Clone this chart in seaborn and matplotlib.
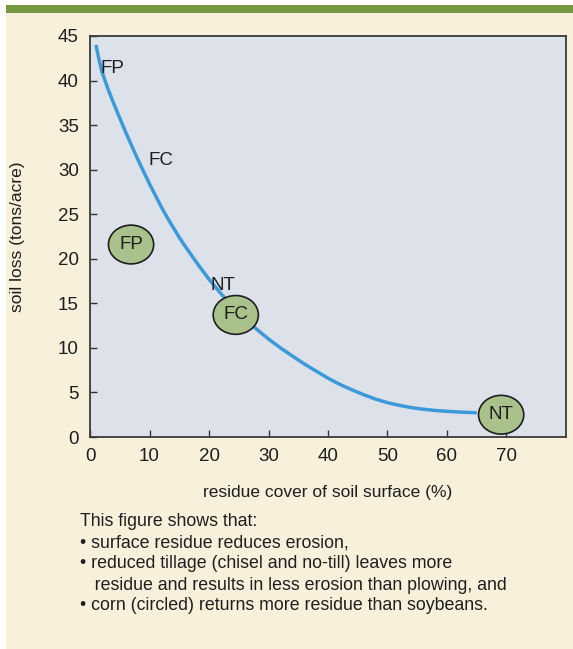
import matplotlib
matplotlib.use("Agg")
import matplotlib.pyplot as plt
from matplotlib.patches import Ellipse, Rectangle
import pandas as pd
import seaborn as sns

# Soil loss vs. residue cover curve
residue_cover = [1, 1.5, 2, 3, 4, 5, 6, 7, 8, 9, 10, 11, 12, 13, 14, 15, 16, 18, 20, 22,
                 24, 26, 28, 30, 32, 34, 36, 38, 40, 42, 44, 46, 48, 50, 52, 54, 56, 58,
                 60, 62, 65]
soil_loss = [44.0, 42.4, 41.0, 39.1, 37.4, 35.8, 34.2, 32.7, 31.2, 29.8, 28.4, 27.1, 25.8,
             24.6, 23.5, 22.4, 21.4, 19.5, 17.7, 16.1, 14.6, 13.3, 12.1, 11.0, 10.0, 9.1,
             8.2, 7.4, 6.6, 5.9, 5.3, 4.75, 4.25, 3.85, 3.55, 3.3, 3.12, 2.98, 2.88, 2.8,
             2.72]

# Soybean tillage systems (plain labels)
soy_labels = ["FP", "FC", "NT"]
soy_x = [1.7, 12.0, 22.3]
soy_y = [41.3, 31.0, 17.0]

# Corn tillage systems (circled labels)
corn_labels = ["FP", "FC", "NT"]
corn_x = [6.9, 24.5, 69.1]
corn_y = [21.6, 13.7, 2.5]

x_ticks = [0, 10, 20, 30, 40, 50, 60, 70]
y_ticks = [0, 5, 10, 15, 20, 25, 30, 35, 40, 45]

caption = [
    "This figure shows that:",
    "\u2022 surface residue reduces erosion,",
    "\u2022 reduced tillage (chisel and no-till) leaves more",
    "   residue and results in less erosion than plowing, and",
    "\u2022 corn (circled) returns more residue than soybeans.",
]

sns.set_theme(style="ticks")
plt.rcParams["font.family"] = ["Liberation Sans Narrow", "Liberation Sans", "DejaVu Sans"]

CREAM = "#F8F0DB"
PANEL = "#DDE1EA"
GREEN = "#76963F"
BLUE = "#3D9AD8"
CIRCLE = "#A9C18B"
DARK = "#1e1e1e"

W, H = 573, 649
fig = plt.figure(figsize=(W / 100, H / 100), dpi=100, facecolor="white")

# Cream panel and green header bar
fig.patches.append(Rectangle((6 / W, 0), 1 - 6 / W, 1 - 13 / H, transform=fig.transFigure,
                             facecolor=CREAM, edgecolor="none", zorder=-5))
fig.patches.append(Rectangle((6 / W, 1 - 13 / H), 1 - 6 / W, 8 / H, transform=fig.transFigure,
                             facecolor=GREEN, edgecolor="none", zorder=-5))

ax = fig.add_axes([90 / W, 1 - 437 / H, 476 / W, 401 / H])
ax.set_zorder(1)
ax.set_facecolor(PANEL)

df = pd.DataFrame({"cover": residue_cover, "loss": soil_loss})
sns.lineplot(data=df, x="cover", y="loss", ax=ax, color=BLUE, linewidth=2.5,
             sort=False, zorder=2, solid_joinstyle="round", solid_capstyle="butt")

for lab, x, y in zip(soy_labels, soy_x, soy_y):
    ax.text(x, y, lab, fontsize=13.5, ha="left" if lab == "FP" else "center",
            va="center", color=DARK, zorder=4)

for lab, x, y in zip(corn_labels, corn_x, corn_y):
    ax.add_patch(Ellipse((x, y), width=7.6, height=4.35, facecolor=CIRCLE,
                         edgecolor=DARK, linewidth=1.2, zorder=3, clip_on=False))
    ax.text(x, y, lab, fontsize=13.5, ha="center", va="center", color=DARK, zorder=4)

ax.set_xlim(0, 80)
ax.set_ylim(0, 45)
ax.set_xticks(x_ticks)
ax.set_yticks(y_ticks)
ax.tick_params(direction="in", length=5, width=1, colors="#333333", labelsize=13.5,
               labelcolor=DARK, pad=8)
for s in ax.spines.values():
    s.set_color("#3a3a3a")
    s.set_linewidth(1.3)

ax.set_xlabel("residue cover of soil surface (%)", fontsize=12.5, color=DARK, labelpad=14)
ax.set_ylabel("soil loss (tons/acre)", fontsize=12.5, color=DARK, labelpad=24)

for i, line in enumerate(caption):
    fig.text(80 / W, 1 - (522 + 21 * i) / H, line, fontsize=12.8, color=DARK,
             ha="left", va="center")

fig.savefig("out.png", dpi=100, facecolor="white")
